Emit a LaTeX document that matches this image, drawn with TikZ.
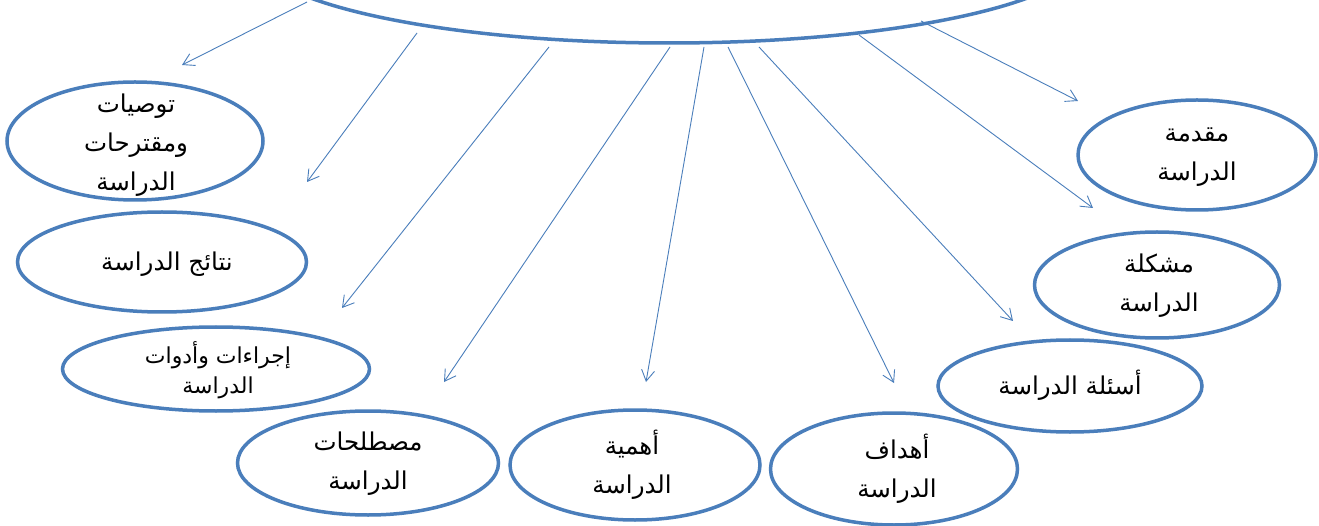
\documentclass[tikz,border=0pt]{standalone}
\usepackage{fontspec}
\newfontfamily\arabicfont[Script=Arabic]{DejaVu Sans}
\TeXXeTstate=1
\usetikzlibrary{arrows.meta,shapes.geometric}
\definecolor{ob}{RGB}{74,126,187}
\tikzset{
  bub/.style={draw=ob, line width=3.5pt, ellipse, inner sep=0pt},
  lbl/.style={font=\arabicfont\fontsize{24.5}{39}\selectfont, align=center, inner sep=0pt, text=black},
  lbls/.style={font=\arabicfont\fontsize{22}{30}\selectfont, align=center, inner sep=0pt, text=black},
  arr/.style={draw=ob, line width=0.9pt, -{Straight Barb[length=11pt,width=13pt]}},
}
\newcommand{\ar}[1]{\beginR #1\endR}
\begin{document}
\begin{tikzpicture}[x=1pt,y=-1pt]
\useasboundingbox (0,0) rectangle (1319,526);
\fill[white] (0,0) rectangle (1319,526);
\clip (0,0) rectangle (1319,526);

% big top ellipse
\node[bub, minimum width=840pt, minimum height=188pt] (top) at (669,-51) {};

% ellipses
\node[bub, minimum width=256pt, minimum height=118pt] (e1) at (135,141) {};
\node[bub, minimum width=289pt, minimum height=100pt] (e2) at (162,262) {};
\node[bub, minimum width=307pt, minimum height=84pt]  (e3) at (216,369) {};
\node[bub, minimum width=261pt, minimum height=104pt] (e4) at (368,463) {};
\node[bub, minimum width=250pt, minimum height=110pt] (e5) at (635,465) {};
\node[bub, minimum width=247pt, minimum height=112pt] (e6) at (894,469) {};
\node[bub, minimum width=264pt, minimum height=92pt]  (e7) at (1070,386) {};
\node[bub, minimum width=245pt, minimum height=106pt] (e8) at (1157,285) {};
\node[bub, minimum width=238pt, minimum height=110pt] (e9) at (1197,155) {};

% texts
\node[lbl] (l1) at (136,145) {\ar{توصيات}\\\ar{ومقترحات}\\\ar{الدراسة}};
\node[lbl] (l2) at (167,264) {\ar{نتائج الدراسة}};
\node[lbls] (l3) at (218,370) {\ar{إجراءات وأدوات}\\\ar{الدراسة}};
\node[lbl] (l4) at (368,464) {\ar{مصطلحات}\\\ar{الدراسة}};
\node[lbl] (l5) at (632,465) {\ar{أهمية}\\\ar{الدراسة}};
\node[lbl] (l6) at (897,469) {\ar{أهداف}\\\ar{الدراسة}};
\node[lbl] (l7) at (1070,385) {\ar{أسئلة الدراسة}};
\node[lbl] (l8) at (1159,286) {\ar{مشكلة}\\\ar{الدراسة}};
\node[lbl] (l9) at (1197,157) {\ar{مقدمة}\\\ar{الدراسة}};

% arrow ends
\coordinate (s1) at (307,2);   \coordinate (t1) at (182,65);
\coordinate (s2) at (417,33);  \coordinate (t2) at (307,182);
\coordinate (s3) at (549,47);  \coordinate (t3) at (342,308);
\coordinate (s4) at (670,47);  \coordinate (t4) at (444,382);
\coordinate (s5) at (704,47);  \coordinate (t5) at (646,382);
\coordinate (s6) at (728,47);  \coordinate (t6) at (894,383);
\coordinate (s7) at (759,47);  \coordinate (t7) at (1013,321);
\coordinate (s8) at (859,35);  \coordinate (t8) at (1093,208);
\coordinate (s9) at (921,21);  \coordinate (t9) at (1078,101);

\foreach \i in {1,...,9} { \draw[arr] (s\i) -- (t\i); }
\end{tikzpicture}
\end{document}
